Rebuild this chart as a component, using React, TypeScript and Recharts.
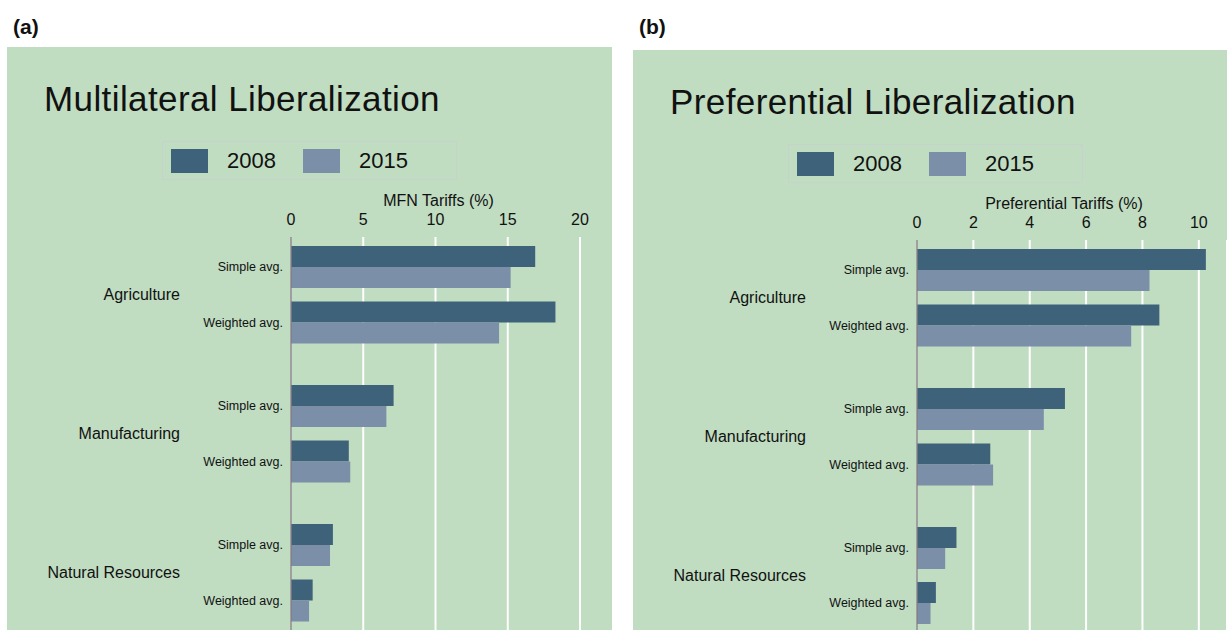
import { Bar, BarChart, CartesianGrid, XAxis, YAxis } from "recharts";

const sectors = ["Agriculture", "Manufacturing", "Natural Resources"];
const measures = ["Simple avg.", "Weighted avg."];
const years = ["2008", "2015"];

// rows: Agr simple, Agr weighted, Manuf simple, Manuf weighted, NatRes simple, NatRes weighted
const mfn2008 = [16.9, 18.3, 7.1, 4.0, 2.9, 1.5];
const mfn2015 = [15.2, 14.4, 6.6, 4.1, 2.7, 1.25];
const mfnTicks = [0, 5, 10, 15, 20];

const pref2008 = [10.25, 8.6, 5.25, 2.6, 1.4, 0.67];
const pref2015 = [8.25, 7.6, 4.5, 2.7, 1.0, 0.48];
const prefTicks = [0, 2, 4, 6, 8, 10];

const colors = ["#3e6279", "#7b90a8"];
const BG = "#c0dcc1";
const FONT = '"Liberation Sans", Arial, Helvetica, sans-serif';

type Row = { sector: string; measure: string; y2008: number; y2015: number };

function sectorRows(s: number, a: number[], b: number[]): Row[] {
  return measures.map((m, j) => ({
    sector: sectors[s],
    measure: m,
    y2008: a[s * 2 + j],
    y2015: b[s * 2 + j],
  }));
}

type SectorProps = {
  rows: Row[];
  height: number;
  width: number;
  marginRight: number;
  pad: { top: number; bottom: number };
  showAxis: boolean;
  domain: [number, number];
  ticks: number[];
  axisLabel: string;
  labelDx: number;
};

function SectorChart(p: SectorProps) {
  return (
    <BarChart
      layout="vertical"
      width={p.width}
      height={p.height}
      data={p.rows}
      margin={{ top: p.showAxis ? 5 : 0, right: p.marginRight, bottom: 0, left: 0 }}
      barGap={0}
    >
      <CartesianGrid horizontal={false} stroke="#ffffff" strokeWidth={2} yAxisId="row" />
      <XAxis
        type="number"
        orientation="top"
        domain={p.domain}
        ticks={p.ticks}
        hide={!p.showAxis}
        height={42}
        axisLine={false}
        tickLine={false}
        tickMargin={6}
        tick={{ fontSize: 16, fill: "#111" }}
        label={{ value: p.axisLabel, position: "insideTop", offset: 0, dx: p.labelDx, fontSize: 16, fill: "#111" }}
      />
      <YAxis
        yAxisId="sector"
        type="category"
        dataKey="sector"
        allowDuplicatedCategory={false}
        width={181}
        axisLine={false}
        tickLine={false}
        padding={p.pad}
        tick={{ fontSize: 16, fill: "#111" }}
      />
      <YAxis
        yAxisId="row"
        type="category"
        dataKey="measure"
        width={103}
        axisLine={{ stroke: "#7f7f7f", strokeWidth: 1.5 }}
        tickLine={false}
        padding={p.pad}
        tick={{ fontSize: 12.5, fill: "#111" }}
      />
      <Bar yAxisId="row" dataKey="y2008" name={years[0]} fill={colors[0]} barSize={21} isAnimationActive={false} />
      <Bar yAxisId="row" dataKey="y2015" name={years[1]} fill={colors[1]} barSize={21} isAnimationActive={false} />
    </BarChart>
  );
}

function LegendBox() {
  return (
    <div
      style={{
        position: "absolute",
        left: 155,
        top: 94,
        width: 293,
        height: 37,
        border: "1px solid #c6d2cd",
        display: "flex",
        alignItems: "center",
      }}
    >
      {years.map((y, i) => (
        <div key={y} style={{ display: "flex", alignItems: "center", marginLeft: i === 0 ? 8 : 27 }}>
          <div style={{ width: 37, height: 24, background: colors[i] }} />
          <span style={{ marginLeft: 19, fontSize: 22, color: "#111" }}>{y}</span>
        </div>
      ))}
    </div>
  );
}

type PanelProps = {
  left: number;
  top: number;
  width: number;
  height: number;
  tag: string;
  title: string;
  axisLabel: string;
  a: number[];
  b: number[];
  domain: [number, number];
  ticks: number[];
  marginRight: number;
  lastPadBottom: number;
  labelDx: number;
};

function Panel(p: PanelProps) {
  const common = {
    width: p.width,
    marginRight: p.marginRight,
    domain: p.domain,
    ticks: p.ticks,
    axisLabel: p.axisLabel,
    labelDx: p.labelDx,
  };
  return (
    <>
      <div style={{ position: "absolute", left: p.left + 6, top: 15, fontSize: 21, fontWeight: 700, color: "#111" }}>
        {p.tag}
      </div>
      <div style={{ position: "absolute", left: p.left, top: p.top, width: p.width, height: p.height, background: BG }}>
        <div
          style={{
            position: "absolute",
            left: 37,
            top: 34,
            fontSize: 35,
            lineHeight: "35px",
            letterSpacing: 0.4,
            color: "#111",
            whiteSpace: "nowrap",
          }}
        >
          {p.title}
        </div>
        <LegendBox />
        <div style={{ position: "absolute", left: 0, top: 143 }}>
          <SectorChart {...common} rows={sectorRows(0, p.a, p.b)} height={174} pad={{ top: 2, bottom: 14 }} showAxis />
        </div>
        <div style={{ position: "absolute", left: 0, top: 317 }}>
          <SectorChart {...common} rows={sectorRows(1, p.a, p.b)} height={139} pad={{ top: 14, bottom: 14 }} showAxis={false} />
        </div>
        <div style={{ position: "absolute", left: 0, top: 456 }}>
          <SectorChart
            {...common}
            rows={sectorRows(2, p.a, p.b)}
            height={p.height - 456}
            pad={{ top: 14, bottom: p.lastPadBottom }}
            showAxis={false}
          />
        </div>
      </div>
    </>
  );
}

export default function App() {
  return (
    <div
      style={{
        position: "absolute",
        left: 0,
        top: 0,
        width: 1227,
        height: 630,
        background: "#ffffff",
        fontFamily: FONT,
        overflow: "hidden",
      }}
    >
      <Panel
        left={7}
        top={47}
        width={605}
        height={583}
        tag="(a)"
        title="Multilateral Liberalization"
        axisLabel="MFN Tariffs (%)"
        a={mfn2008}
        b={mfn2015}
        domain={[0, 20]}
        ticks={mfnTicks}
        marginRight={32}
        lastPadBottom={2}
        labelDx={3}
      />
      <Panel
        left={633}
        top={50}
        width={594}
        height={580}
        tag="(b)"
        title="Preferential Liberalization"
        axisLabel="Preferential Tariffs (%)"
        a={pref2008}
        b={pref2015}
        domain={[0, 11]}
        ticks={prefTicks}
        marginRight={0}
        lastPadBottom={0}
        labelDx={-8}
      />
    </div>
  );
}
